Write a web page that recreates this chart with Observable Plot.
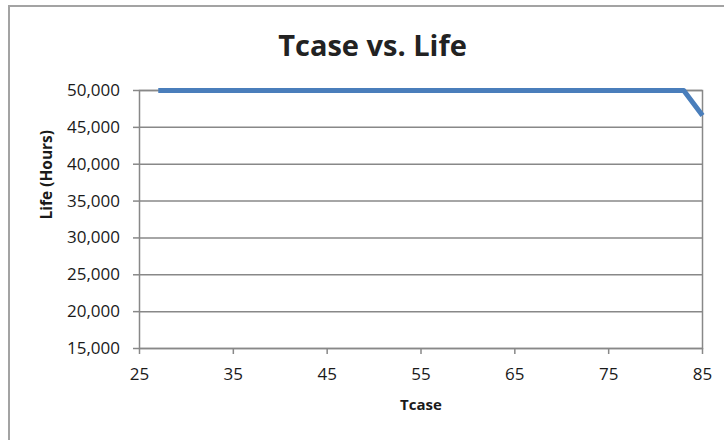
<!DOCTYPE html>
<html>
<head>
<meta charset="utf-8">
<script src="https://cdn.jsdelivr.net/npm/d3@7"></script>
<script src="https://cdn.jsdelivr.net/npm/@observablehq/plot@0.6"></script>
<style>
  html, body { margin: 0; padding: 0; background: #fff; }
  #wrap { position: relative; width: 724px; height: 440px; overflow: hidden; background: #fff; }
  #border { position: absolute; left: 8px; top: 5px; width: 800px; height: 500px;
            border-left: 2px solid #a3a3a3; border-top: 2px solid #a3a3a3; box-sizing: border-box; }
  #title { position: absolute; left: 0; top: 30px; width: 745px; text-align: center;
           font-family: "Open Sans", sans-serif; font-weight: bold; font-size: 29px; line-height: 29px; color: #222; }
  #chart { position: absolute; left: 0; top: 0; }
</style>
</head>
<body>
<div id="wrap">
  <div id="border"></div>
  <div id="chart"></div>
  <div id="title">Tcase vs. Life</div>
</div>
<script>
const tcase = [27, 83, 85];
const life = [50000, 50000, 46600];
const xTicks = [25, 35, 45, 55, 65, 75, 85];
const yTicks = [15000, 20000, 25000, 30000, 35000, 40000, 45000, 50000];
const xTitle = "Tcase";
const yTitle = "Life (Hours)";

const points = tcase.map((t, i) => ({t, life: life[i]}));

const chart = Plot.plot({
  width: 724,
  height: 440,
  marginLeft: 139,
  marginRight: 22,
  marginTop: 90,
  marginBottom: 92,
  style: {fontFamily: "Open Sans, sans-serif", fontSize: "17px", background: "transparent", overflow: "visible"},
  x: {domain: [25, 85]},
  y: {domain: [15000, 50000]},
  marks: [
    Plot.ruleY(yTicks, {stroke: "#888888", strokeWidth: 1.5}),
    Plot.frame({stroke: "#888888", strokeWidth: 1.5}),
    Plot.axisY({ticks: yTicks, tickFormat: d3.format(","), tickSize: 6, tickPadding: 13.5,
                stroke: "#888888", strokeWidth: 1.5, fill: "#1a1a1a", fontSize: 17, label: null}),
    Plot.axisX({ticks: xTicks, tickFormat: d => String(d), tickSize: 6, tickPadding: 13,
                stroke: "#888888", strokeWidth: 1.5, fill: "#1a1a1a", fontSize: 17, label: null}),
    Plot.line(points, {x: "t", y: "life", stroke: "#4a7ebb", strokeWidth: 5,
                       strokeLinecap: "butt", strokeLinejoin: "round"}),
    Plot.text([xTitle], {frameAnchor: "bottom", text: d => d, dy: 61, fontWeight: "bold",
                         fontSize: 15, fill: "#1a1a1a"}),
    Plot.text([yTitle], {frameAnchor: "left", text: d => d, dx: -92, rotate: -90, fontWeight: "bold",
                         fontSize: 15.5, fill: "#1a1a1a"})
  ]
});
document.getElementById("chart").appendChild(chart);
</script>
</body>
</html>
